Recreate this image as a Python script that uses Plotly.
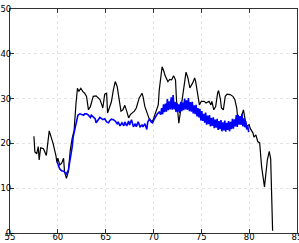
import plotly.graph_objects as go

black_x = [57.5, 57.6, 57.8, 57.95, 58.05, 58.2, 58.5, 58.8, 59.1, 59.3, 59.5, 59.8, 59.9, 60.0, 60.2, 60.4,
           60.6, 60.7, 60.9, 61.1, 61.3, 61.5, 61.7, 61.9, 62.05, 62.2, 62.4, 62.6, 62.8, 63.0, 63.1, 63.2,
           63.4, 63.7, 64.0, 64.2, 64.4, 64.6, 64.7, 64.9, 65.1, 65.2, 65.4, 65.6, 65.8, 66.0, 66.2, 66.4,
           66.6, 66.8, 67.0, 67.2, 67.4, 67.6, 67.8, 68.0, 68.2, 68.4, 68.5, 68.8, 68.9, 69.1, 69.3, 69.6,
           69.9, 70.2, 70.5, 70.6, 70.9, 71.1, 71.2, 71.5, 71.7, 71.9, 72.1, 72.3, 72.4, 72.55, 72.65, 72.8,
           73.0, 73.2, 73.4, 73.6, 73.8, 74.1, 74.3, 74.4, 74.6, 74.8, 75.0, 75.3, 75.5, 75.8, 76.0, 76.1,
           76.3, 76.5, 76.7, 76.8, 77.0, 77.1, 77.3, 77.5, 77.7, 78.0, 78.3, 78.5, 78.7, 78.8, 79.0, 79.2,
           79.4, 79.5, 79.7, 80.0, 80.1, 80.4, 80.5, 80.7, 80.9, 81.1, 81.3, 81.6, 81.9, 82.1, 82.25, 82.45]
black_y = [21.6, 18.1, 17.7, 19.3, 16.3, 19.0, 18.8, 17.3, 22.8, 21.6, 20.0, 17.3, 15.8, 16.7, 15.2, 15.6,
           16.7, 13.7, 12.2, 13.7, 18.5, 21.1, 22.9, 28.9, 32.3, 31.6, 32.3, 31.6, 31.2, 30.5, 28.6, 27.5,
           28.2, 30.5, 30.6, 30.1, 29.8, 28.6, 27.9, 31.0, 31.2, 26.8, 27.9, 29.3, 31.9, 33.8, 32.7, 29.8,
           27.2, 27.5, 28.5, 27.2, 25.7, 26.5, 26.8, 27.2, 27.9, 29.3, 30.1, 31.2, 30.5, 28.2, 26.8, 25.2,
           24.9, 26.7, 28.6, 31.9, 37.1, 36.0, 35.2, 33.8, 34.3, 34.2, 35.1, 34.2, 29.8, 26.8, 24.5, 26.8,
           29.8, 33.1, 35.9, 34.6, 32.4, 33.5, 34.6, 33.9, 31.2, 28.6, 29.4, 29.4, 29.0, 29.4, 28.6, 29.4,
           27.5, 28.2, 31.2, 31.8, 29.8, 27.9, 27.5, 30.5, 31.0, 30.9, 30.5, 29.8, 27.9, 25.7, 24.5, 26.3,
           27.5, 26.3, 23.8, 24.2, 23.4, 22.3, 21.4, 21.9, 20.4, 20.1, 14.8, 10.3, 16.3, 18.2, 16.5, 0.5]

blue_x = [59.9, 60.1, 60.2, 60.4, 60.6, 60.8, 60.9, 61.1, 61.3, 61.5, 61.6, 61.8, 62.0, 62.1, 62.3, 62.5,
          62.7, 62.8, 63.0, 63.2, 63.4, 63.5, 63.7, 63.9, 64.0, 64.2, 64.4, 64.6, 64.7, 64.9, 65.1, 65.3,
          65.4, 65.6, 65.8, 66.0, 66.2, 66.3, 66.5, 66.7, 66.9, 67.0, 67.2, 67.4, 67.5, 67.7, 67.9, 68.1,
          68.2, 68.4, 68.6, 68.8, 68.9, 69.1, 69.3, 69.4, 69.6, 69.75, 69.9, 70.1, 70.3, 70.4, 70.6,
          70.75, 70.85, 70.95, 71.05, 71.15, 71.25, 71.35, 71.45, 71.55, 71.65, 71.75, 71.85, 71.95,
          72.05, 72.15, 72.25, 72.35, 72.45, 72.55, 72.65, 72.75, 72.85, 72.95, 73.05, 73.15, 73.25,
          73.35, 73.45, 73.55, 73.65, 73.75, 73.85, 73.95, 74.05, 74.15, 74.25, 74.35, 74.45, 74.55,
          74.65, 74.75, 74.85, 74.95, 75.05, 75.15, 75.25, 75.35, 75.45, 75.55, 75.65, 75.75, 75.85,
          75.95, 76.05, 76.15, 76.25, 76.35, 76.45, 76.55, 76.65, 76.75, 76.85, 76.95, 77.05, 77.15,
          77.25, 77.35, 77.45, 77.55, 77.65, 77.75, 77.85, 77.95, 78.05, 78.15, 78.25, 78.35, 78.45,
          78.55, 78.65, 78.75, 78.85, 78.95, 79.05, 79.15, 79.25, 79.35, 79.45, 79.55, 79.65, 79.75,
          79.85, 79.95]
blue_y = [16.0, 14.8, 14.3, 13.9, 13.8, 13.4, 13.2, 14.0, 16.2, 19.2, 21.4, 23.3, 24.8, 26.3, 26.6, 26.5,
          26.3, 26.6, 26.6, 26.3, 25.8, 26.3, 25.9, 25.5, 24.6, 25.2, 25.8, 25.5, 25.3, 25.5, 24.8, 24.6,
          25.0, 25.4, 25.3, 25.0, 24.4, 24.8, 23.9, 24.6, 23.9, 24.8, 23.9, 25.0, 24.1, 25.3, 23.7, 24.4,
          23.7, 24.8, 23.7, 24.1, 23.7, 24.4, 23.1, 24.8, 25.5, 24.8, 24.6, 25.5, 26.3, 26.6, 27.0,
          26.4, 27.9, 26.5, 28.7, 27.0, 28.9, 27.1, 29.9, 27.4, 29.4, 27.6, 30.3, 27.5,
          30.8, 27.6, 29.3, 27.0, 29.0, 27.1, 28.7, 26.8, 29.3, 27.2, 29.1, 27.4, 30.0,
          27.6, 29.6, 27.5, 30.1, 27.2, 29.2, 27.1, 29.3, 26.7, 28.5, 26.5, 28.6, 26.0,
          27.9, 25.8, 27.7, 25.1, 27.2, 25.0, 26.6, 24.6, 26.9, 24.2, 26.2, 24.3, 26.3,
          23.8, 25.7, 23.9, 25.8, 23.4, 25.3, 23.5, 25.5, 23.0, 25.0, 23.2, 25.2, 22.7,
          24.7, 22.9, 25.1, 22.6, 24.6, 23.0, 25.0, 22.7, 24.8, 23.2, 25.5, 23.3, 25.4,
          23.8, 26.3, 23.7, 26.4, 24.2, 26.1, 24.1, 26.6, 23.8, 25.6, 23.6, 24.9, 23.1,
          23.9, 22.5]

x_ticks = [55, 60, 65, 70, 75, 80, 85]
y_ticks = [0, 10, 20, 30, 40, 50]

fig = go.Figure()
fig.add_trace(go.Scatter(x=black_x, y=black_y, mode="lines",
                         line=dict(color="#000000", width=1.2), showlegend=False))
fig.add_trace(go.Scatter(x=blue_x, y=blue_y, mode="lines",
                         line=dict(color="#0000ff", width=1.6), showlegend=False))

axis_common = dict(
    showline=True, linecolor="#333333", linewidth=1.2, mirror="ticks",
    ticks="inside", ticklen=4, tickwidth=1, tickcolor="#333333",
    showgrid=True, gridcolor="#e3e3e3", griddash="3px,3px", gridwidth=1,
    zeroline=False, automargin=False, ticklabelstandoff=-4, ticklabeloverflow="allow",
    tickfont=dict(family="DejaVu Sans", size=8.5, color="#000000"),
)

fig.update_layout(
    width=299, height=243,
    margin=dict(l=10, r=2, t=9, b=10),
    paper_bgcolor="#ffffff", plot_bgcolor="#ffffff",
    xaxis=dict(range=[55, 85], tickvals=x_ticks, ticktext=[str(v) for v in x_ticks], **axis_common),
    yaxis=dict(range=[0, 50], tickvals=y_ticks, ticktext=[str(v) for v in y_ticks], **axis_common),
)

fig.write_html("out.html", config={"displayModeBar": False},
               post_script="document.body.style.margin='0';document.body.style.overflow='hidden';")
